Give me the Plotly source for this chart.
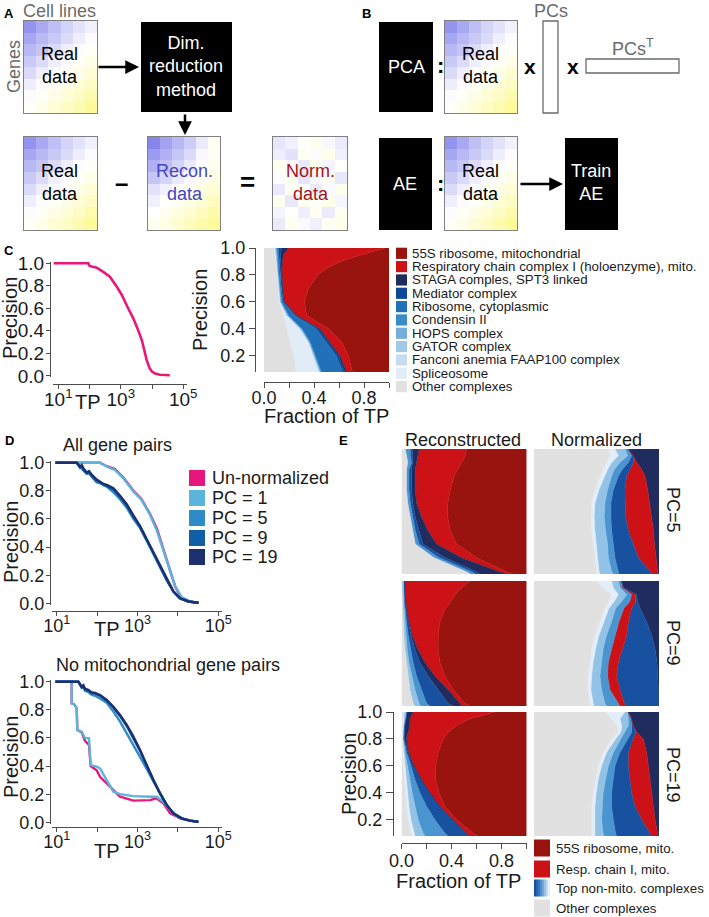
import numpy as np
import plotly.graph_objects as go

W, H = 709, 917
FONT = "Liberation Sans, Arial, Helvetica, sans-serif"
TXT = "#1a1a1a"
AXC = "#4d4d4d"

# ======================= DATA =======================
# Panels A/B: schematic expression matrices (8 genes x 6 cell lines); -1 = blue, +1 = yellow
real_matrix = [
    [-0.75, -0.60, -0.45, -0.30, -0.20, -0.10],
    [-0.62, -0.50, -0.38, -0.25, -0.12, -0.02],
    [-0.50, -0.40, -0.25, -0.12, -0.02, 0.05],
    [-0.38, -0.25, -0.12, -0.02, 0.06, 0.15],
    [-0.25, -0.12, -0.02, 0.06, 0.16, 0.28],
    [-0.12, -0.02, 0.06, 0.16, 0.28, 0.40],
    [-0.02, 0.06, 0.16, 0.28, 0.40, 0.55],
    [0.05, 0.15, 0.28, 0.40, 0.55, 0.70],
]
recon_matrix = [
    [-0.85, -0.65, -0.50, -0.35, -0.15, 0.10],
    [-0.70, -0.55, -0.40, -0.25, -0.05, 0.05],
    [-0.55, -0.45, -0.30, -0.15, 0.00, 0.12],
    [-0.40, -0.30, -0.15, -0.05, 0.08, 0.18],
    [-0.20, -0.10, 0.00, 0.08, 0.20, 0.30],
    [-0.10, 0.02, 0.10, 0.20, 0.32, 0.45],
    [0.00, 0.10, 0.20, 0.32, 0.45, 0.58],
    [0.08, 0.18, 0.32, 0.45, 0.58, 0.70],
]
norm_matrix = [
    [-0.18, -0.10, 0.02, 0.12, -0.05, -0.15],
    [-0.12, -0.20, 0.08, -0.02, 0.15, -0.10],
    [0.10, -0.05, -0.15, 0.14, -0.08, 0.04],
    [-0.02, 0.12, -0.18, -0.06, 0.10, -0.16],
    [-0.15, 0.06, 0.02, -0.14, -0.04, 0.12],
    [0.12, -0.16, 0.08, 0.04, 0.14, -0.06],
    [-0.08, 0.02, -0.12, 0.10, -0.14, 0.08],
    [-0.14, 0.10, -0.04, -0.10, 0.06, 0.14],
]

# Panel C left: precision vs TP (log10 TP)
c_log10_tp = [0.85, 1.96, 2.0, 2.23, 2.45, 2.65, 2.85, 3.03, 3.2, 3.4, 3.55, 3.67,
              3.76, 3.83, 3.92, 3.99, 4.1, 4.25, 4.57]
c_precision = [1.0, 1.0, 0.975, 0.96, 0.92, 0.88, 0.8, 0.72, 0.62, 0.51, 0.41, 0.32,
               0.22, 0.14, 0.07, 0.04, 0.02, 0.01, 0.005]

# Panel C right: cumulative fraction of TP (right edge of each complex) at precision levels
c_levels = [1.0, 0.95, 0.9, 0.85, 0.8, 0.7, 0.6, 0.5, 0.4, 0.3, 0.2, 0.1, 0.08]
c_labels = ["55S ribosome, mitochondrial",
            "Respiratory chain complex I (holoenzyme), mito.",
            "STAGA comples, SPT3 linked", "Mediator complex", "Ribosome, cytoplasmic",
            "Condensin II", "HOPS complex", "GATOR complex",
            "Fanconi anemia FAAP100 complex", "Spliceosome", "Other complexes"]
c_colors = ["#9A140F", "#CC1217", "#1F2B5E", "#0F4899", "#2171B8", "#3A8CC8",
            "#74AFDC", "#A2CAE8", "#C6DCF0", "#E2ECF7", "#E0E0E0"]
c_cum_edges = [  # same order as c_labels
    [1.0, 1.0, 1.0, 1.0, 1.0, 1.0, 1.0, 1.0, 1.0, 1.0, 1.0, 1.0, 1.0],
    [.968, .781, .608, .501, .429, .355, .323, .341, .515, .621, .675, .701, .707],
    [.195, .155, .147, .141, .147, .149, .163, .261, .448, .528, .608, .653, .661],
    [.141, .131, .136, .133, .141, .147, .160, .253, .435, .515, .595, .640, .648],
    [.115, .120, .125, .125, .133, .139, .155, .243, .416, .496, .576, .621, .629],
    [.104, .109, .115, .115, .120, .128, .141, .197, .304, .371, .411, .451, .459],
    [.099, .104, .112, .112, .117, .125, .136, .192, .299, .365, .405, .445, .453],
    [.093, .101, .109, .109, .116, .123, .133, .187, .293, .363, .400, .440, .448],
    [.088, .096, .107, .107, .115, .120, .131, .181, .288, .357, .395, .435, .443],
    [.083, .093, .104, .104, .112, .117, .125, .176, .280, .349, .387, .427, .435],
    [.075, .088, .101, .101, .109, .115, .120, .155, .181, .208, .235, .253, .261],
]

# Panel D
d_series = ["Un-normalized", "PC = 1", "PC = 5", "PC = 9", "PC = 19"]
d_colors = ["#E8177D", "#5BB4DC", "#2E8BC8", "#0E5FA8", "#1C2F6E"]
d_all_log10tp = {
    "Un-normalized": [0.97, 2.07, 2.24, 2.44, 2.65, 2.90, 3.10, 3.31, 3.48, 3.64, 3.80, 3.93, 4.09, 4.30, 4.51],
    "PC = 1":        [0.97, 2.07, 2.24, 2.44, 2.65, 2.90, 3.10, 3.31, 3.48, 3.64, 3.80, 3.93, 4.09, 4.30, 4.51],
}
d_all_prec = {
    "Un-normalized": [1.0, 1.0, 0.975, 0.955, 0.895, 0.80, 0.74, 0.635, 0.53, 0.39, 0.245, 0.12, 0.035, 0.01, 0.004],
    "PC = 1":        [1.0, 1.0, 0.972, 0.948, 0.889, 0.794, 0.735, 0.628, 0.515, 0.375, 0.23, 0.125, 0.045, 0.014, 0.005],
}
d_all_pc_log10tp = [0.97, 1.495, 1.578, 1.62, 1.66, 1.743, 1.80, 1.866, 1.99, 2.073, 2.15, 2.238,
                    2.32, 2.403, 2.568, 2.733, 2.898, 3.063, 3.228, 3.393, 3.558, 3.723, 3.888,
                    4.053, 4.26, 4.507]
d_all_prec.update({
    "PC = 5":  [1.0, 1.0, 0.97, 0.96, 0.945, 0.92, 0.925, 0.90, 0.86, 0.855, 0.84, 0.83, 0.81, 0.79,
                0.74, 0.68, 0.60, 0.535, 0.445, 0.35, 0.258, 0.165, 0.082, 0.035, 0.013, 0.004],
    "PC = 9":  [1.0, 1.0, 0.965, 0.975, 0.95, 0.925, 0.93, 0.905, 0.87, 0.86, 0.845, 0.835, 0.82, 0.81,
                0.755, 0.695, 0.615, 0.545, 0.45, 0.355, 0.26, 0.165, 0.083, 0.035, 0.013, 0.004],
    "PC = 19": [1.0, 1.0, 0.972, 0.984, 0.96, 0.93, 0.94, 0.915, 0.88, 0.865, 0.85, 0.842, 0.83, 0.818,
                0.765, 0.705, 0.625, 0.55, 0.455, 0.36, 0.265, 0.17, 0.085, 0.036, 0.013, 0.004],
})
for s in ["PC = 5", "PC = 9", "PC = 19"]:
    d_all_log10tp[s] = d_all_pc_log10tp

d_nomito_log10tp = {
    "Un-normalized": [0.97, 1.371, 1.371, 1.43, 1.495, 1.51, 1.62, 1.70, 1.80, 1.84, 1.99, 2.073,
                      2.32, 2.568, 2.898, 3.31, 3.475, 3.64, 3.805, 4.053, 4.3, 4.465],
    "PC = 1":        [0.97, 1.371, 1.371, 1.43, 1.495, 1.51, 1.62, 1.70, 1.80, 1.84, 1.99, 2.073,
                      2.238, 2.403, 2.568, 2.898, 3.31, 3.475, 3.64, 3.805, 3.97, 4.218, 4.465],
}
d_nomito_prec = {
    "Un-normalized": [1.0, 1.0, 0.846, 0.84, 0.811, 0.656, 0.64, 0.58, 0.55, 0.40, 0.37, 0.324,
                      0.254, 0.182, 0.154, 0.158, 0.17, 0.135, 0.064, 0.028, 0.012, 0.004],
    "PC = 1":        [1.0, 1.0, 0.846, 0.84, 0.811, 0.656, 0.644, 0.60, 0.597, 0.407, 0.396, 0.384,
                      0.30, 0.218, 0.20, 0.186, 0.182, 0.182, 0.146, 0.087, 0.04, 0.016, 0.004],
}
d_nomito_pc_log10tp = [0.97, 1.536, 1.62, 1.66, 1.70, 1.79, 1.85, 1.95, 2.073, 2.238, 2.403, 2.568,
                       2.733, 2.898, 3.063, 3.228, 3.393, 3.558, 3.723, 3.888, 4.094, 4.3, 4.507]
d_nomito_prec.update({
    "PC = 5":  [1.0, 1.0, 0.955, 0.96, 0.935, 0.925, 0.91, 0.90, 0.88, 0.85, 0.787, 0.716, 0.633,
                0.55, 0.467, 0.38, 0.29, 0.20, 0.12, 0.062, 0.027, 0.012, 0.004],
    "PC = 9":  [1.0, 1.0, 0.96, 0.968, 0.945, 0.935, 0.92, 0.915, 0.90, 0.865, 0.815, 0.755, 0.685,
                0.60, 0.508, 0.40, 0.296, 0.203, 0.122, 0.063, 0.028, 0.012, 0.004],
    "PC = 19": [1.0, 1.0, 0.965, 0.975, 0.95, 0.94, 0.925, 0.92, 0.905, 0.87, 0.822, 0.763, 0.692,
                0.609, 0.514, 0.407, 0.301, 0.207, 0.124, 0.064, 0.028, 0.012, 0.004],
})
for s in ["PC = 5", "PC = 9", "PC = 19"]:
    d_nomito_log10tp[s] = d_nomito_pc_log10tp

# Panel E: cumulative fraction of TP (right edge of each group, left to right) at precision levels
e_levels = [1.0, 0.95, 0.9, 0.85, 0.8, 0.7, 0.6, 0.5, 0.4, 0.3, 0.2, 0.1, 0.08]
e_colors = {"other": "#E1E1E1", "lightest": "#E4EEF8", "light": "#92C3E6", "mid": "#4A94CF",
            "dark": "#17519F", "navy": "#202B5E", "red": "#CC1217", "darkred": "#9A140F"}
e_pc5_recon = [
    ("other",   [.03, .04, .05, .04, .04, .04, .05, .07, .09, .11, .26, .51, .55]),
    ("mid",     [.07, .07, .08, .06, .06, .06, .07, .09, .11, .14, .30, .55, .59]),
    ("dark",    [.09, .09, .09, .08, .08, .08, .09, .11, .14, .17, .35, .59, .63]),
    ("navy",    [.14, .13, .12, .11, .11, .11, .12, .16, .21, .28, .48, .77, .84]),
    ("red",     [.52, .51, .48, .45, .42, .39, .37, .37, .39, .44, .60, .83, .89]),
    ("darkred", [1, 1, 1, 1, 1, 1, 1, 1, 1, 1, 1, 1, 1]),
]
e_pc5_norm = [
    ("other",    [.594, .607, .580, .553, .527, .487, .460, .455, .460, .473, .487, .500, .508]),
    ("lightest", [.647, .674, .620, .588, .561, .519, .487, .481, .487, .497, .508, .519, .527]),
    ("light",    [.727, .749, .687, .642, .620, .588, .567, .561, .572, .588, .594, .620, .634]),
    ("mid",      [.749, .781, .754, .706, .674, .634, .615, .615, .620, .634, .647, .674, .679]),
    ("dark",     [.754, .794, .794, .767, .741, .727, .727, .733, .754, .794, .834, .928, .947]),
    ("red",      [.754, .794, .821, .861, .888, .909, .928, .941, .955, .963, .973, .989, .992]),
    ("navy",     [1, 1, 1, 1, 1, 1, 1, 1, 1, 1, 1, 1, 1]),
]
e_pc9_recon = [
    ("other",   [.003, .003, .005, .005, .008, .013, .019, .027, .040, .053, .067, .093, .107]),
    ("light",   [.016, .016, .019, .019, .021, .027, .035, .045, .059, .080, .107, .139, .155]),
    ("mid",     [.021, .021, .024, .024, .029, .040, .053, .072, .093, .120, .160, .200, .227]),
    ("dark",    [.024, .024, .027, .029, .037, .053, .075, .107, .147, .213, .293, .373, .413]),
    ("navy",    [.027, .027, .029, .032, .040, .059, .085, .128, .187, .267, .373, .467, .480]),
    ("red",     [.547, .480, .427, .395, .352, .307, .293, .293, .307, .347, .413, .507, .547]),
    ("darkred", [1, 1, 1, 1, 1, 1, 1, 1, 1, 1, 1, 1, 1]),
]
e_pc9_norm = [
    ("other",    [.500, .553, .620, .599, .567, .527, .487, .460, .447, .433, .428, .447, .455]),
    ("lightest", [.620, .634, .674, .642, .599, .561, .519, .492, .473, .460, .455, .473, .481]),
    ("light",    [.674, .687, .741, .701, .652, .620, .580, .553, .540, .527, .540, .567, .580]),
    ("mid",      [.695, .706, .781, .767, .719, .679, .647, .620, .594, .588, .607, .674, .687]),
    ("red",      [.701, .714, .813, .813, .781, .754, .741, .706, .674, .660, .687, .722, .733]),
    ("dark",     [.701, .717, .818, .829, .848, .901, .941, .968, .984, .989, .995, .997, 1.0]),
    ("navy",     [1, 1, 1, 1, 1, 1, 1, 1, 1, 1, 1, 1, 1]),
]
e_pc19_recon = [
    ("other",    [.013, .013, .011, .008, .005, .005, .013, .021, .032, .040, .053, .075, .080]),
    ("lightest", [.021, .019, .013, .011, .008, .016, .027, .037, .048, .059, .075, .101, .107]),
    ("light",    [.040, .032, .021, .019, .016, .027, .048, .067, .085, .107, .133, .173, .187]),
    ("mid",      [.043, .035, .024, .021, .019, .040, .075, .107, .147, .200, .267, .347, .373]),
    ("dark",     [.045, .037, .027, .024, .021, .053, .101, .160, .227, .307, .413, .520, .547]),
    ("navy",     [.093, .067, .067, .053, .040, .056, .101, .160, .227, .307, .413, .520, .547]),
    ("red",      [.747, .547, .440, .373, .333, .293, .272, .272, .299, .347, .440, .573, .613]),
    ("darkred",  [1, 1, 1, 1, 1, 1, 1, 1, 1, 1, 1, 1, 1]),
]
e_pc19_norm = [
    ("other",    [.567, .620, .660, .674, .620, .553, .513, .492, .473, .460, .455, .460, .460]),
    ("lightest", [.727, .687, .701, .695, .652, .580, .540, .513, .497, .487, .481, .487, .487]),
    ("light",    [.749, .754, .754, .727, .695, .634, .594, .572, .553, .545, .540, .553, .561]),
    ("mid",      [.751, .775, .781, .781, .754, .687, .647, .634, .620, .620, .634, .652, .660]),
    ("dark",     [.754, .781, .794, .813, .794, .754, .754, .767, .781, .807, .861, .928, .941]),
    ("red",      [.754, .781, .794, .821, .874, .901, .914, .928, .941, .955, .968, .989, .995]),
    ("navy",     [1, 1, 1, 1, 1, 1, 1, 1, 1, 1, 1, 1, 1]),
]
e_legend_labels = ["55S ribosome, mito.", "Resp. chain I, mito.", "Top non-mito. complexes", "Other complexes"]
e_legend_colors = ["#9A140F", "#CC1217", None, "#E1E1E1"]
e_gradient_colors = ["#17519F", "#2463B0", "#3578C0", "#4D8ECE", "#70A8DB", "#99C2E7", "#C3DBF1", "#E9F2FA"]

# ======================= HELPERS =======================
def xd(a, b):
    return [a / W, b / W]

def yd(top, bot):
    return [1 - bot / H, 1 - top / H]

def ann(text, x, y, size, color=TXT, angle=0, bold=False, xanchor="center", yanchor="middle"):
    if bold:
        text = f"<b>{text}</b>"
    return dict(text=text, x=x / W, y=1 - y / H, xref="paper", yref="paper", showarrow=False,
                font=dict(size=size, color=color, family=FONT), textangle=angle,
                xanchor=xanchor, yanchor=yanchor)

def rect(x0, y0, x1, y1, fill, line=None, lw=0):
    return dict(type="rect", xref="paper", yref="paper", x0=x0 / W, x1=x1 / W,
                y0=1 - y1 / H, y1=1 - y0 / H, fillcolor=fill,
                line=dict(color=line if line else fill, width=lw), layer="above")

def arrow(xh, yh, dx, dy):
    return dict(x=xh / W, y=1 - yh / H, xref="paper", yref="paper", ax=dx, ay=dy,
                axref="pixel", ayref="pixel", showarrow=True, arrowhead=2, arrowsize=1.1,
                arrowwidth=2.5, arrowcolor="black", text="")

def anames(i):
    s = "" if i == 1 else str(i)
    return "x" + s, "y" + s, "xaxis" + s, "yaxis" + s

fig = go.Figure()
axes = {}
annotations = []
shapes = []

HEAT_SCALE = [[0, "rgb(112,112,232)"], [0.5, "rgb(255,255,255)"], [1, "rgb(250,248,110)"]]

def add_heat(i, z, x0, x1, y0, y1):
    xa, ya, xk, yk = anames(i)
    fig.add_trace(go.Heatmap(z=z, colorscale=HEAT_SCALE, zmin=-1, zmax=1, showscale=False,
                             hoverinfo="skip", xaxis=xa, yaxis=ya))
    base = dict(showline=True, mirror=True, linecolor="#808080", linewidth=1, showticklabels=False,
                ticks="", showgrid=False, zeroline=False, fixedrange=True, automargin=False)
    axes[xk] = dict(domain=xd(x0, x1), anchor=ya, range=[-0.5, 5.5], **base)
    axes[yk] = dict(domain=yd(y0, y1), anchor=xa, range=[7.5, -0.5], **base)

def axstyle(size=18, ticklen=4, standoff=0):
    return dict(showgrid=False, zeroline=False, showline=True, linecolor=AXC, linewidth=1,
                ticks="outside", ticklen=ticklen, tickwidth=1, tickcolor=AXC, automargin=False,
                ticklabelstandoff=standoff,
                tickfont=dict(size=size, color=TXT, family=FONT), fixedrange=True)

LOGVALS = [10, 100, 1000, 10000, 100000]
LOGTEXT = ["10<sup>1</sup>", "", "10<sup>3</sup>", "", "10<sup>5</sup>"]

def add_stack(i, levels, cats, colors, x0, x1, y0, y1):
    xa, ya, xk, yk = anames(i)
    prev = np.zeros(len(levels))
    for name, cum in cats:
        cum = np.array(cum, dtype=float)
        frac = cum - prev
        prev = cum
        col = colors[name]
        fig.add_trace(go.Scatter(x=frac, y=levels, mode="lines", stackgroup=f"sg{i}", orientation="h",
                                 line=dict(width=0.6, color=col), fillcolor=col, hoverinfo="skip",
                                 showlegend=False, xaxis=xa, yaxis=ya))
    axes[xk] = dict(domain=xd(x0, x1), anchor=ya, range=[0, 1], visible=False, fixedrange=True,
                    automargin=False)
    axes[yk] = dict(domain=yd(y0, y1), anchor=xa, range=[0.08, 1.0], visible=False, fixedrange=True,
                    automargin=False)

# ======================= PANEL A =======================
add_heat(1, real_matrix, 24, 97, 21, 113)
add_heat(2, real_matrix, 24, 97, 137, 230)
add_heat(3, recon_matrix, 148, 220, 137, 230)
add_heat(4, norm_matrix, 273, 347, 137, 230)
annotations += [
    ann("A", 9, 13, 13, "black", bold=True),
    ann("Cell lines", 60, 11, 18, "#6b6b6b"),
    ann("Genes", 14, 67, 18, "#6b6b6b", angle=-90),
    ann("Real<br>data", 60, 66, 18, "black"),
    ann("Dim.<br>reduction<br>method", 186, 67, 18, "white"),
    ann("Real<br>data", 60, 183, 18, "black"),
    ann("–", 121, 182, 24, "black", bold=True),
    ann("Recon.<br>data", 184, 183, 18, "#4646C0"),
    ann("=", 247, 182, 26, "black", bold=True),
    ann("Norm.<br>data", 310, 183, 18, "#A0161A"),
    arrow(139, 67, -42, 0),
    arrow(185, 135, 0, -22),
]
shapes.append(rect(141, 22, 232, 112, "black"))

# ======================= PANEL B =======================
add_heat(5, real_matrix, 445, 517, 21, 113)
add_heat(6, real_matrix, 445, 517, 137, 230)
shapes += [
    rect(379, 22, 433, 112, "black"),
    rect(379, 138, 432, 230, "black"),
    rect(565, 138, 618, 230, "black"),
    rect(543, 21, 558, 113, "white", "#6b6b6b", 1.3),
    rect(586, 59, 679, 73, "white", "#6b6b6b", 1.3),
]
annotations += [
    ann("B", 366, 13, 13, "black", bold=True),
    ann("PCA", 406, 67, 18, "white"),
    ann(":", 440, 66, 22, "black", bold=True),
    ann("Real<br>data", 481, 66, 18, "black"),
    ann("x", 530, 67, 21, "black", bold=True),
    ann("PCs", 551, 11, 18, "#6b6b6b"),
    ann("x", 573, 67, 21, "black", bold=True),
    ann("PCs<sup>T</sup>", 633, 47, 18, "#6b6b6b"),
    ann("AE", 405, 184, 18, "white"),
    ann(":", 440, 184, 22, "black", bold=True),
    ann("Real<br>data", 481, 183, 18, "black"),
    ann("Train<br>AE", 591, 183, 18, "white"),
    arrow(563, 184, -44, 0),
]

# ======================= PANEL C left =======================
xa, ya, xk, yk = anames(7)
fig.add_trace(go.Scatter(x=10 ** np.array(c_log10_tp), y=c_precision, mode="lines",
                         line=dict(color="#E8177D", width=2.6), hoverinfo="skip", showlegend=False,
                         xaxis=xa, yaxis=ya))
axes[xk] = dict(domain=xd(53, 187), type="log", range=[0.83, 5.12], anchor="free",
                position=1 - 384 / H, tickvals=LOGVALS, ticktext=LOGTEXT, **axstyle(19, 4, -6))
axes[yk] = dict(domain=yd(262, 377), range=[-0.01, 1.01], anchor="free", position=50 / W,
                tickvals=[0, 0.2, 0.4, 0.6, 0.8, 1.0], tickformat=".1f", **axstyle(19, 4, -2))
annotations += [
    ann("C", 9, 250, 13, "black", bold=True),
    ann("Precision", 10, 318, 20, angle=-90),
    ann("TP", 88, 402, 20),
]

# ======================= PANEL C right =======================
c_order = list(range(len(c_labels)))[::-1]   # stack from "Other" (left) to 55S (right)
c_cats = [(c_labels[k], c_cum_edges[k]) for k in c_order]
c_colmap = {c_labels[k]: c_colors[k] for k in range(len(c_labels))}
add_stack(8, c_levels, c_cats, c_colmap, 264, 389, 248, 372)
axes["xaxis8"].update(dict(visible=True, anchor="free", position=1 - 382 / H,
                           tickvals=[0, 0.2, 0.4, 0.6, 0.8, 1.0],
                           ticktext=["0.0", "", "0.4", "", "0.8", ""], **axstyle(18, 5, -6)))
axes["yaxis8"].update(dict(visible=True, anchor="free", position=255 / W,
                           tickvals=[0.2, 0.4, 0.6, 0.8, 1.0], tickformat=".1f", **axstyle(18, 6, 0)))
annotations += [
    ann("Precision", 200, 310, 20, angle=-90),
    ann("Fraction of TP", 326, 416, 20),
]
for k, (lab, col) in enumerate(zip(c_labels, c_colors)):
    yc = 253.3 + 13.33 * k
    shapes.append(rect(396, yc - 5.6, 407, yc + 5.6, col))
    annotations.append(ann(lab, 410, yc, 13.3, xanchor="left"))

# ======================= PANEL D =======================
def add_d(i, logs, precs, y0, y1, xline_y, title, title_x, title_y, tp_y, prec_y):
    xa, ya, xk, yk = anames(i)
    for s, col in zip(d_series, d_colors):
        fig.add_trace(go.Scatter(x=10 ** np.array(logs[s]), y=precs[s], mode="lines",
                                 line=dict(color=col, width=2.4), hoverinfo="skip", showlegend=False,
                                 xaxis=xa, yaxis=ya))
    axes[xk] = dict(domain=xd(52, 222), type="log", range=[0.884, 5.09], anchor="free",
                    position=1 - xline_y / H, tickvals=LOGVALS, ticktext=LOGTEXT, **axstyle(18, 4, -6))
    axes[yk] = dict(domain=yd(y0, y1), range=[-0.012, 1.012], anchor="free", position=50 / W,
                    tickvals=[0, 0.2, 0.4, 0.6, 0.8, 1.0], tickformat=".1f", **axstyle(18, 4, -2))
    annotations.extend([
        ann(title, title_x, title_y, 18),
        ann("TP", 107, tp_y, 20),
        ann("Precision", 11, prec_y, 20, angle=-90),
    ])

add_d(9, d_all_log10tp, d_all_prec, 461, 605, 611, "All gene pairs", 117, 445, 629, 542)
add_d(10, d_nomito_log10tp, d_nomito_prec, 680, 824, 827, "No mitochondrial gene pairs", 168, 665, 851, 757)
annotations.append(ann("D", 9, 440, 13, "black", bold=True))
for k, (lab, col) in enumerate(zip(d_series, d_colors)):
    yc = [478, 498, 518, 538, 557][k]
    shapes.append(rect(189, yc - 8, 205, yc + 8, col))
    annotations.append(ann(lab, 210, yc, 18, xanchor="left"))

# ======================= PANEL E =======================
LX = (401.5, 526.5)
RX = (534, 659)
ROWS = [(449, 574), (581, 706), (712, 836)]
add_stack(11, e_levels, e_pc5_recon, e_colors, LX[0], LX[1], *ROWS[0])
add_stack(12, e_levels, e_pc5_norm, e_colors, RX[0], RX[1], *ROWS[0])
add_stack(13, e_levels, e_pc9_recon, e_colors, LX[0], LX[1], *ROWS[1])
add_stack(14, e_levels, e_pc9_norm, e_colors, RX[0], RX[1], *ROWS[1])
add_stack(15, e_levels, e_pc19_recon, e_colors, LX[0], LX[1], *ROWS[2])
add_stack(16, e_levels, e_pc19_norm, e_colors, RX[0], RX[1], *ROWS[2])
axes["xaxis15"].update(dict(visible=True, anchor="free", position=1 - 843 / H,
                            tickvals=[0, 0.2, 0.4, 0.6, 0.8, 1.0],
                            ticktext=["0.0", "", "0.4", "", "0.8", ""], **axstyle(18, 5, -4)))
axes["yaxis15"].update(dict(visible=True, anchor="free", position=393 / W,
                            tickvals=[0.2, 0.4, 0.6, 0.8, 1.0], tickformat=".1f", **axstyle(18, 7, 0)))
annotations += [
    ann("E", 343, 440, 13, "black", bold=True),
    ann("Reconstructed", 463, 440, 18),
    ann("Normalized", 596, 440, 18),
    ann("PC=5", 673, 510, 18, angle=90),
    ann("PC=9", 673, 643, 18, angle=90),
    ann("PC=19", 673, 775, 18, angle=90),
    ann("Precision", 349, 774, 20, angle=-90),
    ann("Fraction of TP", 458, 881, 20),
]
for k, lab in enumerate(e_legend_labels):
    yc = [848, 869, 888, 908][k]
    col = e_legend_colors[k]
    if col is None:
        n = len(e_gradient_colors)
        for j, gc in enumerate(e_gradient_colors):
            shapes.append(rect(534 + 16 * j / n, yc - 8.5, 534 + 16 * (j + 1) / n + 0.3, yc + 8.5, gc))
    else:
        shapes.append(rect(534, yc - 8.5, 550, yc + 8.5, col))
    annotations.append(ann(lab, 554, yc, 13.3, xanchor="left"))

fig.update_layout(
    template="none",
    width=W, height=H, margin=dict(l=0, r=0, t=0, b=0, pad=0, autoexpand=False),
    paper_bgcolor="white", plot_bgcolor="rgba(0,0,0,0)",
    font=dict(family=FONT, color=TXT),
    showlegend=False, annotations=annotations, shapes=shapes, **axes,
)
fig.write_html("out.html", config={"displayModeBar": False, "staticPlot": True},
               post_script="document.body.style.margin='0';document.body.style.padding='0';"
                           "document.documentElement.style.overflow='hidden';")
